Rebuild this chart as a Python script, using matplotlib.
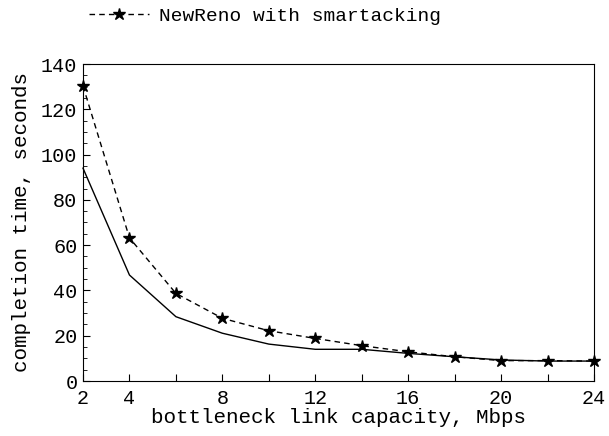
import numpy as np
import matplotlib.pyplot as plt
from matplotlib.ticker import MultipleLocator

capacity = [2, 4, 6, 8, 10, 12, 14, 16, 18, 20, 22, 24]
smartack = [130.3, 63.2, 38.7, 27.7, 22.2, 18.8, 15.6, 12.9, 10.7, 9.0, 9.0, 8.8]
baseline = [94.0, 46.8, 28.4, 21.1, 16.3, 14.0, 14.0, 12.2, 10.7, 9.3, 8.8, 8.8]
xtick_labels = {2: '2', 4: '4', 8: '8', 12: '12', 16: '16', 20: '20', 24: '24'}

plt.rcParams['font.family'] = ['Liberation Mono', 'DejaVu Sans Mono']

fig = plt.figure(figsize=(6.09, 4.36), dpi=100)
ax = fig.add_axes([83 / 609, 1 - 381 / 436, 511 / 609, 317 / 436])

ax.plot(capacity, smartack, color='black', linestyle=(0, (4, 3)), linewidth=1,
        marker='*', markersize=9, label='NewReno with smartacking', clip_on=False)
ax.plot(capacity, baseline, color='black', linestyle='-', linewidth=1, clip_on=False)

ax.set_xlim(2, 24)
ax.set_ylim(0, 140)
ax.set_xticks(capacity)
ax.set_xticklabels([xtick_labels.get(c, '') for c in capacity])
ax.yaxis.set_major_locator(MultipleLocator(20))
ax.yaxis.set_minor_locator(MultipleLocator(5))
ax.tick_params(direction='in', labelsize=14.5, length=5)
ax.tick_params(axis='x', pad=6)
ax.tick_params(axis='y', pad=4)
ax.tick_params(which='minor', direction='in', length=3)
ax.set_xlabel('bottleneck link capacity, Mbps', fontsize=15, labelpad=0)
ax.set_ylabel('completion time, seconds', fontsize=15, labelpad=7)

fig.legend(loc='center', bbox_to_anchor=(265 / 609, 1 - 16 / 436), frameon=False,
           fontsize=14, handlelength=3.1, handletextpad=0.5)

fig.savefig('out.png', dpi=100)
